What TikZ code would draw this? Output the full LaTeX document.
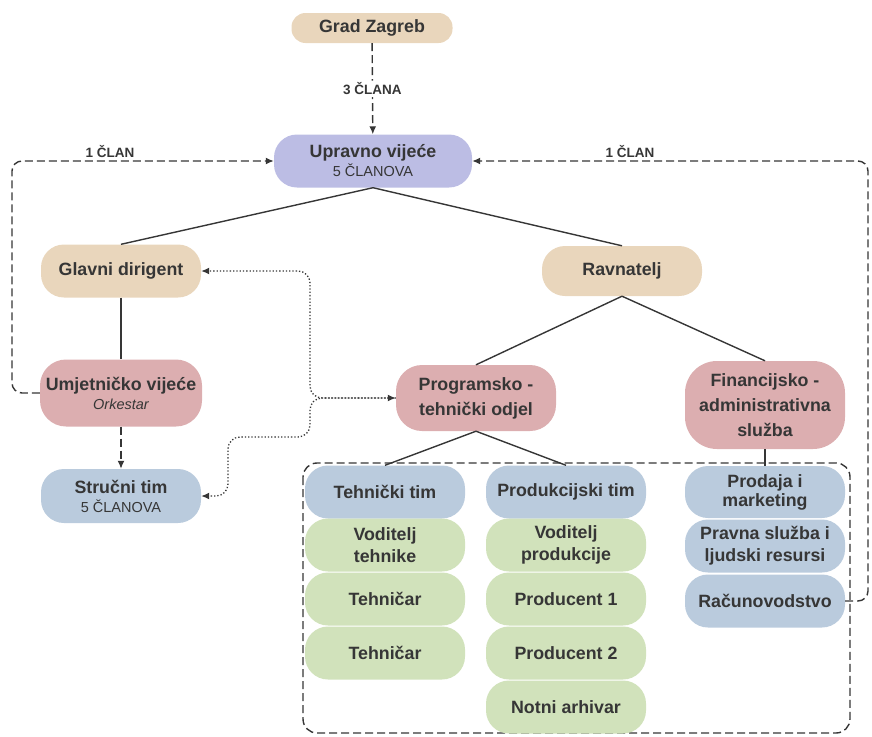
\documentclass[tikz,border=0pt]{standalone}
\usepackage{fontspec}
\setmainfont{Liberation Sans}
\usepackage{tikz}
\usetikzlibrary{arrows.meta,calc}

\definecolor{ink}{HTML}{363636}
\definecolor{tanfill}{HTML}{E9D6BC}
\definecolor{violetfill}{HTML}{BCBDE4}
\definecolor{rosefill}{HTML}{DCAEB0}
\definecolor{steelfill}{HTML}{BACBDD}
\definecolor{sagefill}{HTML}{D1E2BB}
\newcommand{\subline}[1]{{\fontsize{14.5}{16}\selectfont\mdseries #1}}

\begin{document}
\begin{tikzpicture}
[x = 1pt, y = -1pt]
\tikzset{
	box/.style = {rectangle, rounded corners = 23, align = center, text = ink, inner sep = 1,
		minimum width = 160, minimum height = 53, font = \fontsize{17.8}{22}\selectfont\bfseries},
	tan box/.style = {box, fill = tanfill},
	violet box/.style = {box, fill = violetfill},
	rose box/.style = {box, fill = rosefill},
	steel box/.style = {box, fill = steelfill},
	sage box/.style = {box, fill = sagefill},
	link/.style = {draw = ink, line width = 1.4},
	dash link/.style = {link, dash pattern = on 8pt off 4pt, rounded corners = 10},
	dot link/.style = {link, line width = 1.3, dotted, rounded corners = 12},
	arrow end/.style = {-{Latex[length = 8pt, width = 7pt]}},
	arrow both/.style = {{Latex[length = 8pt, width = 7pt]}-{Latex[length = 8pt, width = 7pt]}},
	count/.style = {font = \fontsize{13.5}{15}\selectfont\bfseries, text = ink, inner sep = 2},
}
\useasboundingbox (0,0) rectangle (872,736);

\draw[dash link, rounded corners = 14] (303,463) rectangle (850,733);

\node(gz)[tan box, minimum width = 161, minimum height = 30, rounded corners = 14] at (372,28) {Grad Zagreb};
\node(uv)[violet box, minimum width = 198] at (373,161) {Upravno vijeće\\[-3pt]\subline{5 ČLANOVA}};
\node(gd)[tan box] at (121,271) {Glavni dirigent};
\node(rv)[tan box, minimum height = 50] at (622,271) {Ravnatelj};
\node(uj)[rose box, minimum width = 162, minimum height = 67, rounded corners = 26] at (121,393) {Umjetničko vijeće\\[-3pt]\subline{\itshape Orkestar}};
\node(st)[steel box, minimum height = 54] at (121,496) {Stručni tim\\[-3pt]\subline{5 ČLANOVA}};
\node(pt)[rose box, minimum height = 66, rounded corners = 26, font = \fontsize{17.8}{25}\selectfont\bfseries] at (476,398) {Programsko -\\tehnički odjel};
\node(fa)[rose box, minimum height = 88, rounded corners = 32, font = \fontsize{17.8}{25}\selectfont\bfseries] at (765,405) {Financijsko -\\administrativna\\služba};

\node(tt)[steel box] at (385,492) {Tehnički tim};
\node(vt)[sage box] at (385,545) {Voditelj\\tehnike};
\node(th1)[sage box] at (385,599) {Tehničar};
\node(th2)[sage box] at (385,653) {Tehničar};

\node(pk)[steel box] at (566,492) {Produkcijski tim};
\node(vp)[sage box] at (566,545) {Voditelj\\produkcije};
\node(pr1)[sage box] at (566,599) {Producent 1};
\node(pr2)[sage box] at (566,653) {Producent 2};
\node(na)[sage box] at (566,707) {Notni arhivar};

\node(pm)[steel box, minimum height = 52, font = \fontsize{17.8}{19}\selectfont\bfseries] at (765,492) {Prodaja i\\marketing};
\node(ps)[steel box] at (765,546) {Pravna služba i\\ljudski resursi};
\node(ra)[steel box] at (765,601) {Računovodstvo};

\draw[link] (uv.south) -- (gd.north);
\draw[link] (uv.south) -- (rv.north);
\draw[link] (gd) -- (uj);
\draw[link] (rv.south) -- (pt.north);
\draw[link] (rv.south) -- (fa.north);
\draw[link] (pt.south) -- (tt.north);
\draw[link] (pt.south) -- (pk.north);
\draw[link] (fa) -- (pm);

\draw[dash link, arrow end] (gz) -- node[count, fill = white]{3 ČLANA} (uv);
\draw[dash link, arrow end] (uj) -- (st);
\draw[dash link, arrow end] (uj.west) -- (12,393) -- (12,161) -- (uv.west);
\draw[dash link, arrow end] (ra.east) -- (868,601) -- (868,161) -- (uv.east);
\node(l1)[count] at (110,152) {1 ČLAN};
\node(l2)[count] at (630,152) {1 ČLAN};

\draw[dot link, arrow both] (pt.west) -- (310,398) -- (310,271) -- (gd.east);
\draw[dot link, arrow end] (pt.west) -- (310,398) -- (310,437) -- (228,437) -- (228,496) -- (st.east);

\end{tikzpicture}
\end{document}
